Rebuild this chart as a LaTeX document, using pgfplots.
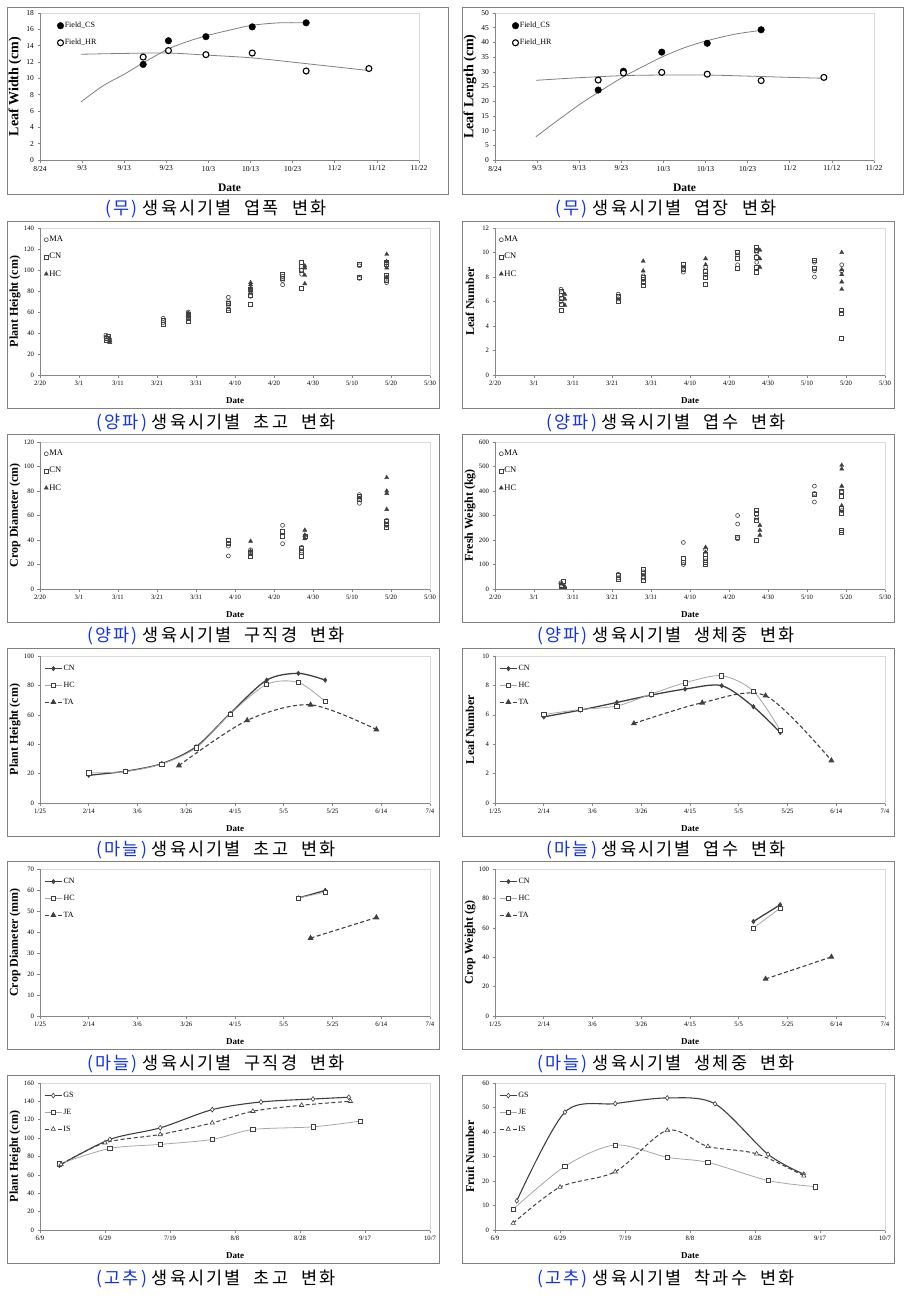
\documentclass[border=0pt]{standalone}
\usepackage{fontspec}
\setmainfont{Liberation Serif}
\newfontfamily\krfont[LetterSpace=12]{Noto Sans CJK KR}
\usepackage{pgfplots}
\pgfplotsset{compat=1.18}
\definecolor{framegray}{HTML}{808080}
\definecolor{axgray}{HTML}{868686}
\definecolor{bordergray}{HTML}{D9D9D9}
\definecolor{darkln}{HTML}{404040}
\definecolor{lightln}{HTML}{A6A6A6}
\definecolor{trendgray}{HTML}{7F7F7F}
\definecolor{capblue}{HTML}{1030F0}
\pgfplotsset{
 base/.style={scale only axis, anchor=south west, ymin=0,
   axis line style={draw=bordergray, line width=0.7pt},
   tick pos=left, tick align=outside, major tick length=2.5pt,
   tick style={draw=axgray, line width=0.6pt},
   /pgf/number format/assume math mode=true,
   xlabel={Date}, legend cell align=left,
   after end axis/.code={\draw[axgray, line width=0.8pt] (rel axis cs:0,1) -- (rel axis cs:0,0) -- (rel axis cs:1,0);},
 },
 rowA/.style={base, width=379pt, height=147pt, xmin=0, xmax=90, xtick={0,10,...,90},
   xticklabels={8/24,9/3,9/13,9/23,10/3,10/13,10/23,11/2,11/12,11/22},
   tick label style={font=\fontsize{7.5}{8}\selectfont},
   xlabel style={font=\bfseries\fontsize{11.5}{12}\selectfont, at={([yshift=-28pt]axis description cs:0.5,0)}, anchor=center},
   ylabel style={font=\bfseries\fontsize{14}{15}\selectfont, at={([xshift=-25pt]axis description cs:0,0.5)}, anchor=center},
   legend style={at={([xshift=17pt,yshift=-8pt]axis description cs:0,1)}, anchor=north west, draw=none, fill=none,
     font=\fontsize{8}{9}\selectfont, row sep=8pt, inner sep=0pt, nodes={inner sep=1pt}},
   legend image code/.code={\draw[mark repeat=2,mark phase=2,##1] plot coordinates {(0pt,0pt) (3pt,0pt) (6pt,0pt)};},
 },
 rowB/.style={base, width=390pt, height=147pt,
   tick label style={font=\fontsize{6.7}{7}\selectfont},
   xlabel style={font=\bfseries\fontsize{9}{10}\selectfont, at={([yshift=-26pt]axis description cs:0.5,0)}, anchor=center},
   ylabel style={font=\bfseries\fontsize{12}{13}\selectfont, at={([xshift=-25pt]axis description cs:0,0.5)}, anchor=center},
 },
 onion/.style={rowB, xmin=0, xmax=100, xtick={0,10,...,100},
   xticklabels={2/20,3/1,3/11,3/21,3/31,4/10,4/20,4/30,5/10,5/20,5/30},
   legend style={at={([xshift=4pt,yshift=-7pt]axis description cs:0,1)}, anchor=north west, draw=none, fill=none,
     font=\fontsize{8.5}{9}\selectfont, row sep=8pt, inner sep=0pt, nodes={inner sep=1pt}},
   legend image code/.code={\draw[mark repeat=2,mark phase=2,##1] plot coordinates {(0pt,0pt) (3pt,0pt) (6pt,0pt)};},
 },
 linelegend/.style={legend style={at={([xshift=4pt,yshift=-8pt]axis description cs:0,1)}, anchor=north west, draw=none, fill=none,
     font=\fontsize{8}{9}\selectfont, row sep=8pt, inner sep=0pt, nodes={inner sep=1pt}}},
 garlic/.style={rowB, linelegend, xmin=0, xmax=160, xtick={0,20,...,160},
   xticklabels={1/25,2/14,3/6,3/26,4/15,5/5,5/25,6/14,7/4}},
 pepper/.style={rowB, linelegend, xmin=0, xmax=120, xtick={0,20,...,120},
   xticklabels={6/9,6/29,7/19,8/8,8/28,9/17,10/7}},
 cs/.style={only marks, mark=*, mark size=3.3pt, mark options={fill=black, draw=black}},
 hr/.style={only marks, mark=*, mark size=3.0pt, mark options={fill=white, draw=black, line width=1.1pt}},
 trend/.style={no markers, smooth, draw=trendgray, line width=0.8pt, forget plot},
 ma/.style={only marks, mark=o, mark size=2pt, mark options={draw=darkln, line width=0.6pt}},
 cn/.style={only marks, mark=square, mark size=2pt, mark options={draw=darkln, line width=0.6pt}},
 hc/.style={only marks, mark=triangle*, mark size=2.4pt, mark options={draw=darkln, fill=darkln, line width=0.4pt}},
 gcn/.style={darkln, line width=1.3pt, smooth, mark=diamond*, mark size=2.3pt, mark options={solid, fill=darkln, draw=darkln, line width=0.5pt}},
 ghc/.style={lightln, line width=0.8pt, smooth, mark=square*, mark size=2.1pt, mark options={solid, fill=white, draw=darkln, line width=0.6pt}},
 gta/.style={darkln, line width=1.1pt, smooth, dash pattern=on 4pt off 2.5pt, mark=triangle*, mark size=2.4pt, mark options={solid, fill=darkln, draw=darkln}},
 pgs/.style={darkln, line width=1.1pt, smooth, mark=diamond*, mark size=2.4pt, mark options={solid, fill=white, draw=darkln, line width=0.6pt}},
 pje/.style={lightln, line width=0.8pt, smooth, mark=square*, mark size=2.2pt, mark options={solid, fill=white, draw=darkln, line width=0.6pt}},
 pis/.style={darkln, line width=1.0pt, smooth, dash pattern=on 4pt off 2.5pt, mark=triangle*, mark size=2.5pt, mark options={solid, fill=white, draw=darkln, line width=0.6pt}},
}
\newcommand{\capsp}{\hspace{13pt}}
\newcommand{\capt}[3]{\node[font=\krfont\fontsize{17.5}{20}\selectfont] at (#1) {\textcolor{capblue}{(#2)}\hspace{5pt}#3};}
\begin{document}
\begin{tikzpicture}
% ---------- frames ----------
\begin{scope}[framegray, line width=0.8pt]
\draw (7pt,-7pt) rectangle (448pt,-194pt);
\draw (462pt,-7pt) rectangle (903pt,-194pt);
\draw (7pt,-221pt) rectangle (439pt,-408pt);
\draw (462pt,-221pt) rectangle (894pt,-408pt);
\draw (7pt,-434pt) rectangle (439pt,-622pt);
\draw (462pt,-434pt) rectangle (894pt,-622pt);
\draw (7pt,-648pt) rectangle (439pt,-836pt);
\draw (462pt,-648pt) rectangle (894pt,-836pt);
\draw (7pt,-861pt) rectangle (439pt,-1049pt);
\draw (462pt,-861pt) rectangle (894pt,-1049pt);
\draw (7pt,-1075pt) rectangle (439pt,-1263pt);
\draw (462pt,-1075pt) rectangle (894pt,-1263pt);
\end{scope}
% ---------- Row 1 ----------
\begin{axis}[rowA, at={(40pt,-160pt)}, ymax=18, ytick={0,2,...,18}, ylabel={Leaf Width (cm)}]
\addplot[trend] coordinates {(9.7,7.1) (15,9.1) (20,10.5) (24.5,11.9) (30.5,13.6) (35,14.5) (39.4,15.2) (45,15.9) (50.4,16.5) (57,16.8) (63.2,16.8)};
\addplot[trend] coordinates {(9.7,12.95) (20,13.05) (30.5,13.1) (39.4,12.85) (50.4,12.5) (63.2,11.8) (78.1,10.95)};
\addplot[cs] coordinates {(24.5,11.7) (30.5,14.6) (39.4,15.1) (50.4,16.3) (63.2,16.8)};
\addlegendentry{Field\_CS}
\addplot[hr] coordinates {(24.5,12.6) (30.5,13.4) (39.4,12.9) (50.4,13.1) (63.2,10.9) (78.1,11.2)};
\addlegendentry{Field\_HR}
\end{axis}
\begin{axis}[rowA, at={(495pt,-160pt)}, ymax=50, ytick={0,5,...,50}, ylabel={Leaf Length (cm)}]
\addplot[trend] coordinates {(9.7,7.9) (15,13.6) (20,18.8) (24.5,23.0) (30.5,28.3) (35,31.7) (39.6,35.0) (45,38.2) (50.4,40.6) (57,42.8) (63.2,44.1)};
\addplot[trend] coordinates {(9.7,27.1) (20,28.0) (30.5,28.7) (39.6,28.9) (50.4,28.9) (63.2,28.4) (70,28.1) (78.1,27.8)};
\addplot[cs] coordinates {(24.5,23.8) (30.5,30.2) (39.6,36.7) (50.4,39.7) (63.2,44.3)};
\addlegendentry{Field\_CS}
\addplot[hr] coordinates {(24.5,27.2) (30.5,29.6) (39.6,29.8) (50.4,29.2) (63.2,27.0) (78.1,28.1)};
\addlegendentry{Field\_HR}
\end{axis}
% ---------- Row 2 ----------
\begin{axis}[onion, at={(40pt,-375pt)}, ymax=140, ytick={0,20,...,140}, ylabel={Plant Height (cm)}]
\addplot[ma] coordinates {(16.9,36) (16.9,38) (31.6,50) (31.6,54) (38,56) (38,60) (48.3,63) (48.3,66) (48.3,70) (48.3,74) (54,75) (54,80) (62.2,86) (62.2,90) (62.2,94) (67.1,96) (67.1,100) (81.9,92) (81.9,104) (88.9,88) (88.9,93) (88.9,104)};
\addlegendentry{MA}
\addplot[cn] coordinates {(16.9,33) (16.9,35) (17.5,37) (31.6,48) (31.6,52) (38,51) (38,54) (38,58) (48.3,62) (48.3,68) (54,67) (54,76) (54,82) (62.2,92) (62.2,96) (67.1,83) (67.1,100) (67.1,104) (67.1,107) (81.9,93) (81.9,105) (88.9,90) (88.9,95) (88.9,105) (88.9,107)};
\addlegendentry{CN}
\addplot[hc] coordinates {(17.9,31) (17.9,33) (17.9,35) (38,55) (38,57) (38,59) (54,80) (54,83) (54,86) (54,88) (67.9,87) (67.9,95) (67.9,102) (67.9,104) (88.9,93) (88.9,102) (88.9,108) (88.9,115)};
\addlegendentry{HC}
\end{axis}
\begin{axis}[onion, at={(495pt,-375pt)}, ymax=12, ytick={0,2,...,12}, ylabel={Leaf Number}]
\addplot[ma] coordinates {(16.9,6.0) (16.9,6.5) (16.9,7.0) (31.6,6.2) (31.6,6.6) (38,7.8) (38,8.1) (48.3,8.4) (48.3,8.8) (54,8.2) (54,8.8) (62.2,9.0) (62.2,9.8) (67.1,9.2) (67.1,10.0) (81.9,8.0) (81.9,8.5) (81.9,9.2) (88.9,8.5) (88.9,9.0)};
\addlegendentry{MA}
\addplot[cn] coordinates {(16.9,5.3) (16.9,5.8) (16.9,6.3) (16.9,6.8) (31.6,6.0) (31.6,6.4) (38,7.3) (38,7.6) (38,8.0) (48.3,8.6) (48.3,9.0) (54,7.4) (54,8.0) (54,8.5) (62.2,8.7) (62.2,9.5) (62.2,10.0) (67.1,8.4) (67.1,8.8) (67.1,9.6) (67.1,10.2) (67.1,10.4) (81.9,8.7) (81.9,9.4) (88.9,3.0) (88.9,5.0) (88.9,5.3)};
\addlegendentry{CN}
\addplot[hc] coordinates {(17.9,5.7) (17.9,6.2) (17.9,6.6) (38,8.5) (38,9.3) (54,9.0) (54,9.5) (67.9,8.8) (67.9,9.5) (67.9,10.2) (88.9,7.0) (88.9,7.6) (88.9,8.2) (88.9,8.6) (88.9,10.0)};
\addlegendentry{HC}
\end{axis}
% ---------- Row 3 ----------
\begin{axis}[onion, at={(40pt,-589pt)}, ymax=120, ytick={0,20,...,120}, ylabel={Crop Diameter (cm)}]
\addplot[ma] coordinates {(48.3,27) (48.3,35) (54,29) (54,32) (62.2,37) (62.2,52) (67.1,31) (67.1,34) (81.9,70) (81.9,74) (81.9,77) (88.9,52) (88.9,56)};
\addlegendentry{MA}
\addplot[cn] coordinates {(48.3,37) (48.3,40) (54,27) (54,30) (62.2,43) (62.2,47) (67.1,27) (67.1,30) (67.1,33) (67.9,43) (81.9,73) (81.9,76) (88.9,50) (88.9,53) (88.9,55)};
\addlegendentry{CN}
\addplot[hc] coordinates {(54,28) (54,31) (54,39) (67.9,41) (67.9,44) (67.9,48) (88.9,65) (88.9,78) (88.9,80) (88.9,91)};
\addlegendentry{HC}
\end{axis}
\begin{axis}[onion, at={(495pt,-589pt)}, ymax=600, ytick={0,100,...,600}, ylabel={Fresh Weight (kg)}]
\addplot[ma] coordinates {(16.9,20) (16.9,25) (31.6,45) (31.6,60) (38,45) (38,70) (48.3,100) (48.3,190) (54,115) (54,160) (62.2,205) (62.2,265) (62.2,300) (67.1,290) (81.9,355) (81.9,390) (81.9,420) (88.9,320) (88.9,395)};
\addlegendentry{MA}
\addplot[cn] coordinates {(16.9,10) (16.9,15) (17.5,30) (31.6,40) (31.6,55) (38,35) (38,50) (38,65) (38,80) (48.3,110) (48.3,125) (54,100) (54,110) (54,125) (54,140) (62.2,210) (67.1,200) (67.1,280) (67.1,310) (67.1,320) (81.9,385) (88.9,230) (88.9,240) (88.9,310) (88.9,330) (88.9,380) (88.9,400)};
\addlegendentry{CN}
\addplot[hc] coordinates {(17.9,5) (17.9,10) (54,150) (54,170) (67.9,220) (67.9,240) (67.9,260) (88.9,340) (88.9,420) (88.9,490) (88.9,505)};
\addlegendentry{HC}
\end{axis}
% ---------- Row 4 ----------
\begin{axis}[garlic, at={(40pt,-803pt)}, ymax=100, ytick={0,20,...,100}, ylabel={Plant Height (cm)}]
\addplot[gcn] coordinates {(20,18.9) (35,21.6) (50,26.8) (64,38.2) (78,60.9) (93,83.6) (106,88.2) (117,83.6)};
\addlegendentry{CN}
\addplot[ghc] coordinates {(20,20.5) (35,21.4) (50,26.6) (64,37.5) (78,60.5) (93,80.7) (106,82.0) (117,69.0)};
\addlegendentry{HC}
\addplot[gta] coordinates {(57,25.5) (85,56.2) (111,66.8) (138,50.0)};
\addlegendentry{TA}
\end{axis}
\begin{axis}[garlic, at={(495pt,-803pt)}, ymax=10, ytick={0,2,...,10}, ylabel={Leaf Number}]
\addplot[gcn] coordinates {(20,5.86) (35,6.32) (50,6.84) (64,7.34) (78,7.75) (93,7.98) (106,6.55) (117,4.8)};
\addlegendentry{CN}
\addplot[ghc] coordinates {(20,6.02) (35,6.36) (50,6.6) (64,7.41) (78,8.18) (93,8.66) (106,7.61) (117,4.95)};
\addlegendentry{HC}
\addplot[gta] coordinates {(57,5.41) (85,6.82) (111,7.3) (138,2.89)};
\addlegendentry{TA}
\end{axis}
% ---------- Row 5 ----------
\begin{axis}[garlic, at={(40pt,-1016pt)}, ymax=70, ytick={0,10,...,70}, ylabel={Crop Diameter (mm)}]
\addplot[gcn] coordinates {(106,56.2) (117,59.8)};
\addlegendentry{CN}
\addplot[ghc] coordinates {(106,56.2) (117,59.0)};
\addlegendentry{HC}
\addplot[gta] coordinates {(111,37.1) (138,46.9)};
\addlegendentry{TA}
\end{axis}
\begin{axis}[garlic, at={(495pt,-1016pt)}, ymax=100, ytick={0,20,...,100}, ylabel={Crop Weight (g)}]
\addplot[gcn] coordinates {(106,64.3) (117,75.7)};
\addlegendentry{CN}
\addplot[ghc] coordinates {(106,59.8) (117,73.4)};
\addlegendentry{HC}
\addplot[gta] coordinates {(111,25.2) (138,40.2)};
\addlegendentry{TA}
\end{axis}
% ---------- Row 6 ----------
\begin{axis}[pepper, at={(40pt,-1230pt)}, ymax=160, ytick={0,20,...,160}, ylabel={Plant Height (cm)}]
\addplot[pgs] coordinates {(6,70.4) (21.5,98.6) (37,111.2) (53,131) (68,139.4) (84,142.6) (95,144.5)};
\addlegendentry{GS}
\addplot[pje] coordinates {(6,72) (21.5,88.8) (37,93.2) (53,98.6) (65.5,109.4) (84,112.3) (98.5,118.5)};
\addlegendentry{JE}
\addplot[pis] coordinates {(6.5,71.5) (20,95) (37,104) (53,116.6) (65.5,129.3) (80.5,135.8) (95.5,140.1)};
\addlegendentry{IS}
\end{axis}
\begin{axis}[pepper, at={(495pt,-1230pt)}, ymax=60, ytick={0,10,...,60}, ylabel={Fruit Number}]
\addplot[pgs] coordinates {(6.7,11.9) (21.5,48.1) (37,51.6) (53,53.9) (67.7,51.5) (84,30.9) (95,22.8)};
\addlegendentry{GS}
\addplot[pje] coordinates {(5.6,8.5) (21.5,26.0) (37,34.7) (53,29.7) (65.5,27.6) (84,20.2) (98.5,17.7)};
\addlegendentry{JE}
\addplot[pis] coordinates {(5.6,2.8) (20,17.5) (37,23.8) (53,40.7) (65.5,34.1) (80.5,31.1) (95,22.1)};
\addlegendentry{IS}
\end{axis}
% ---------- captions ----------
\capt{216pt,-209pt}{무}{생육시기별\capsp 엽폭\capsp 변화}
\capt{666pt,-209pt}{무}{생육시기별\capsp 엽장\capsp 변화}
\capt{216pt,-423pt}{양파}{생육시기별\capsp 초고\capsp 변화}
\capt{666pt,-423pt}{양파}{생육시기별\capsp 엽수\capsp 변화}
\capt{216pt,-636pt}{양파}{생육시기별\capsp 구직경\capsp 변화}
\capt{666pt,-636pt}{양파}{생육시기별\capsp 생체중\capsp 변화}
\capt{216pt,-850pt}{마늘}{생육시기별\capsp 초고\capsp 변화}
\capt{666pt,-850pt}{마늘}{생육시기별\capsp 엽수\capsp 변화}
\capt{216pt,-1064pt}{마늘}{생육시기별\capsp 구직경\capsp 변화}
\capt{666pt,-1064pt}{마늘}{생육시기별\capsp 생체중\capsp 변화}
\capt{216pt,-1279pt}{고추}{생육시기별\capsp 초고\capsp 변화}
\capt{666pt,-1279pt}{고추}{생육시기별\capsp 착과수\capsp 변화}
\pgfresetboundingbox
\path (0pt,0pt) rectangle (908pt,-1300pt);
\end{tikzpicture}
\end{document}
